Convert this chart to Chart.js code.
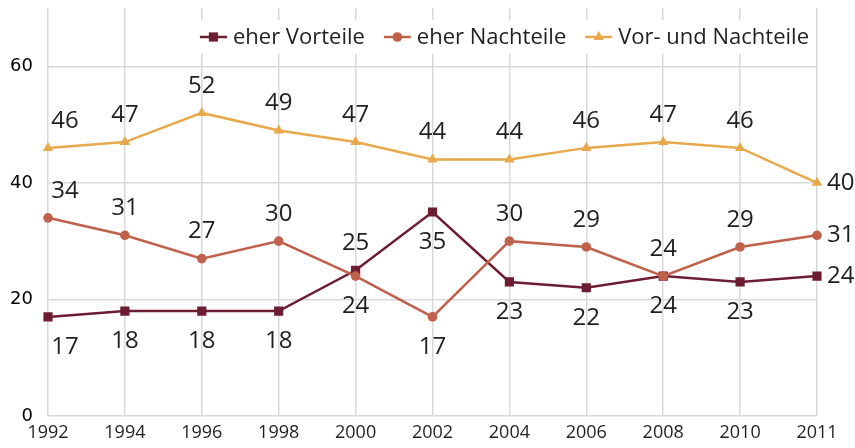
<!DOCTYPE html>
<html>
<head>
<meta charset="utf-8">
<script src="https://cdn.jsdelivr.net/npm/chart.js@4/dist/chart.umd.min.js"></script>
<style>
	html, body { margin: 0; padding: 0; background: #fff; }
</style>
</head>
<body>
<canvas id="chart" width="855" height="448"></canvas>
<script>
// data
const years = ['1992', '1994', '1996', '1998', '2000', '2002', '2004', '2006', '2008', '2010', '2011'];
const vorteile = [17, 18, 18, 18, 25, 35, 23, 22, 24, 23, 24];
const nachteile = [34, 31, 27, 30, 24, 17, 30, 29, 24, 29, 31];
const beides = [46, 47, 52, 49, 47, 44, 44, 46, 47, 46, 40];
const yTicks = [0, 20, 40, 60];

// where each value label sits: a = above, b = below, r = right of the point
const posVorteile = ['b', 'b', 'b', 'b', 'a', 'b', 'b', 'b', 'b', 'b', 'r'];
const posNachteile = ['a', 'a', 'a', 'a', 'b', 'b', 'a', 'a', 'a', 'a', 'r'];
const posBeides = ['a', 'a', 'a', 'a', 'a', 'a', 'a', 'a', 'a', 'a', 'r'];

const gridColor = '#d9d9d9';
const textColor = '#1f1f1f';

// value labels next to the points
const valueLabels = {
	id: 'valueLabels',
	afterDatasetsDraw(chart) {
		const ctx = chart.ctx;
		ctx.save();
		ctx.font = '24px "Open Sans"';
		ctx.fillStyle = textColor;
		ctx.textBaseline = 'middle';
		chart.data.datasets.forEach((ds, di) => {
			const meta = chart.getDatasetMeta(di);
			meta.data.forEach((pt, i) => {
				const p = ds.labelPos[i];
				let x = pt.x, y = pt.y;
				ctx.textAlign = 'center';
				if (p === 'a') y -= 27;
				else if (p === 'b') y += 30;
				else { x += 10; ctx.textAlign = 'left'; }
				if (i === 0) x += 17;
				ctx.fillText(String(ds.data[i]), x, y);
			});
		});
		ctx.restore();
	}
};

// legend drawn inside the plot, top right, on a white box
const innerLegend = {
	id: 'innerLegend',
	afterDatasetsDraw(chart) {
		const ctx = chart.ctx;
		const right = 809, cy = 37, markW = 27, gap = 6, itemGap = 19;
		ctx.save();
		ctx.font = '22px "Open Sans"';
		const items = chart.data.datasets.map(ds => ({ ds, w: ctx.measureText(ds.label).width }));
		let total = 0;
		items.forEach((it, i) => { total += markW + gap + it.w + (i ? itemGap : 0); });
		let x = right - total;
		ctx.fillStyle = '#fff';
		ctx.fillRect(x - 6, cy - 17, total + 12, 34);
		items.forEach(it => {
			const ds = it.ds;
			ctx.strokeStyle = ds.borderColor;
			ctx.lineWidth = 2.5;
			ctx.beginPath();
			ctx.moveTo(x, cy);
			ctx.lineTo(x + markW, cy);
			ctx.stroke();
			ctx.fillStyle = ds.backgroundColor;
			Chart.helpers.drawPoint(ctx, { pointStyle: ds.pointStyle, radius: ds.pointRadius, borderWidth: 0 }, x + markW / 2, cy);
			ctx.fillStyle = textColor;
			ctx.textAlign = 'left';
			ctx.textBaseline = 'middle';
			ctx.fillText(ds.label, x + markW + gap, cy + 1);
			x += markW + gap + it.w + itemGap;
		});
		ctx.restore();
	}
};

new Chart(document.getElementById('chart'), {
	type: 'line',
	data: {
		labels: years,
		datasets: [{
			label: 'eher Vorteile',
			data: vorteile,
			labelPos: posVorteile,
			borderColor: '#6d1d31',
			backgroundColor: '#6d1d31',
			pointStyle: 'rect',
			pointRadius: 6.5,
			order: 1
		}, {
			label: 'eher Nachteile',
			data: nachteile,
			labelPos: posNachteile,
			borderColor: '#c0614c',
			backgroundColor: '#c0614c',
			pointStyle: 'circle',
			pointRadius: 4.8,
			order: 0
		}, {
			label: 'Vor- und Nachteile',
			data: beides,
			labelPos: posBeides,
			borderColor: '#e8a84c',
			backgroundColor: '#e8a84c',
			pointStyle: 'triangle',
			pointRadius: 6,
			order: 2
		}]
	},
	options: {
		responsive: false,
		animation: false,
		layout: { padding: { top: 8, right: 38, left: 0, bottom: 0 } },
		elements: {
			line: { borderWidth: 2.5, tension: 0 },
			point: { borderWidth: 0, hoverRadius: 6 }
		},
		plugins: {
			legend: { display: false },
			tooltip: { enabled: false }
		},
		scales: {
			x: {
				offset: false,
				grid: { color: gridColor, lineWidth: 1.5, drawTicks: false },
				border: { display: false },
				ticks: {
					autoSkip: false, maxRotation: 0, padding: 6,
					color: textColor, font: { family: 'Open Sans', size: 18 }
				},
				afterFit(scale) {
					scale.height = 32;
					scale.paddingLeft = 0;
					scale.paddingRight = 0;
				}
			},
			y: {
				min: 0,
				max: 70,
				afterBuildTicks(scale) { scale.ticks = yTicks.map(v => ({ value: v })); },
				grid: { color: gridColor, lineWidth: 1.5, drawTicks: false },
				border: { display: false },
				ticks: {
					padding: 15,
					color: '#000',
					font: { family: 'DejaVu Sans', size: 18 }
				},
				afterFit(scale) {
					scale.width = 48;
					scale.paddingTop = 0;
					scale.paddingBottom = 0;
				}
			}
		}
	},
	plugins: [valueLabels, innerLegend]
});
</script>
</body>
</html>
